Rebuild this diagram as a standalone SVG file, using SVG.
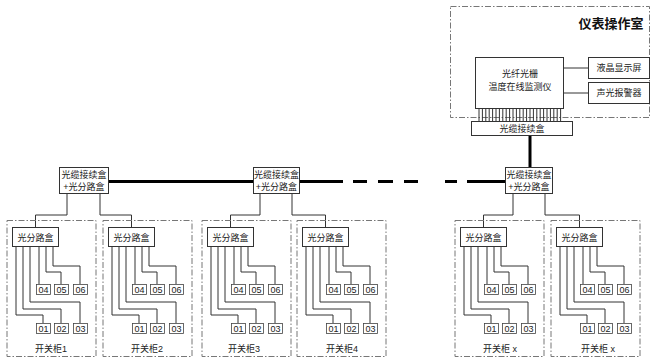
<svg xmlns="http://www.w3.org/2000/svg" xmlns:xlink="http://www.w3.org/1999/xlink" width="655" height="361" viewBox="0 0 655 361">
<style>
text{font-family:"Liberation Sans","Noto Sans CJK SC",sans-serif;font-size:9px;fill:#222;}
.box{fill:#fff;stroke:#333;stroke-width:1;}
.sbox{fill:#fff;stroke:#444;stroke-width:0.8;}
.dash{fill:none;stroke:#777;stroke-width:1;stroke-dasharray:6,2,1.5,2;}
.ln{fill:none;stroke:#333;stroke-width:1;}
.thick{fill:none;stroke:#000;stroke-width:3;}
.num{font-size:9px;text-anchor:middle;}
.mid{text-anchor:middle;}
</style>
<defs>
<g id="cabLines">
<path class="ln" d="M9,246V315H36V323M16,246V309H54V323M23,246V302H73V323M32,246V284M39,246V272H54V284M46,246V266H73V284"/>
</g>
<g id="cabBody">
<rect class="dash" x="0" y="220.5" width="89" height="136"/>
<rect class="box" x="5.5" y="227.5" width="46" height="19"/>
<text x="28.5" y="240.5" class="mid">光分路盒</text>
<rect class="sbox" x="29.5" y="284.5" width="14" height="10"/>
<rect class="sbox" x="47.5" y="284.5" width="14" height="10"/>
<rect class="sbox" x="66.5" y="284.5" width="14" height="10"/>
<text x="36.5" y="292.5" class="num">04</text>
<text x="54.5" y="292.5" class="num">05</text>
<text x="73.5" y="292.5" class="num">06</text>
<rect class="sbox" x="29.5" y="323.5" width="14" height="10"/>
<rect class="sbox" x="47.5" y="323.5" width="14" height="10"/>
<rect class="sbox" x="66.5" y="323.5" width="14" height="10"/>
<text x="36.5" y="331.5" class="num">01</text>
<text x="54.5" y="331.5" class="num">02</text>
<text x="73.5" y="331.5" class="num">03</text>
</g>
</defs>

<g id="room">
<rect class="dash" x="450.5" y="6.5" width="199" height="111"/>
<text x="611" y="28" class="mid" style="font-size:13px;font-weight:bold;fill:#111">仪表操作室</text>
</g>

<g id="connectors">
<path class="ln" d="M563,68H588M563,93H588"/>
<path class="ln" d="M479,108V121M482.4,108V121M485.8,108V121M489.2,108V121M492.6,108V121M496,108V121M499.4,108V121M502.8,108V121M506.2,108V121M509.6,108V121M513,108V121M516.4,108V121M519.8,108V121M523.2,108V121M526.6,108V121M530,108V121M533.4,108V121M536.8,108V121M540.2,108V121M543.6,108V121M547,108V121M550.4,108V121M553.8,108V121M557.2,108V121M560.6,108V121"/>
<path class="thick" d="M530,135V167"/>
<path class="thick" d="M108,181.5H253M299,181.5H343M353,181.5H367M378,181.5H393M404,181.5H418M445,181.5H457M467,181.5H505"/>
<path class="ln" d="M67,193V215H35.5V227M100,193V215H131.5V227M260,193V215H230.5V227M292,193V215H325.5V227M513,193V215H483.5V227M545,193V215H579.5V227"/>
<use xlink:href="#cabLines" transform="translate(7,0)"/>
<use xlink:href="#cabLines" transform="translate(103,0)"/>
<use xlink:href="#cabLines" transform="translate(202,0)"/>
<use xlink:href="#cabLines" transform="translate(297,0)"/>
<use xlink:href="#cabLines" transform="translate(455,0)"/>
<use xlink:href="#cabLines" transform="translate(551,0)"/>
</g>

<g id="monitor">
<rect class="box" x="475.5" y="57.5" width="88" height="51"/>
<text x="520" y="77" class="mid">光纤光栅</text>
<text x="520" y="90" class="mid">温度在线监测仪</text>
</g>
<g id="lcd">
<rect class="box" x="588.5" y="57.5" width="61" height="21"/>
<text x="619" y="71" class="mid">液晶显示屏</text>
</g>
<g id="alarm">
<rect class="box" x="588.5" y="82.5" width="61" height="21"/>
<text x="619" y="96" class="mid">声光报警器</text>
</g>
<g id="splice-top">
<rect class="box" x="471.5" y="121.5" width="101" height="14"/>
<text x="522" y="131.5" class="mid">光缆接续盒</text>
</g>

<g id="junction1">
<rect class="box" x="59.5" y="167.5" width="49" height="26"/>
<text x="84" y="177.5" class="mid">光缆接续盒</text>
<text x="84" y="189.5" class="mid">+光分路盒</text>
</g>
<g id="junction2">
<rect class="box" x="253.5" y="167.5" width="46" height="26"/>
<text x="276.5" y="177.5" class="mid">光缆接续盒</text>
<text x="276.5" y="189.5" class="mid">+光分路盒</text>
</g>
<g id="junction3">
<rect class="box" x="505.5" y="167.5" width="47" height="26"/>
<text x="529" y="177.5" class="mid">光缆接续盒</text>
<text x="529" y="189.5" class="mid">+光分路盒</text>
</g>

<g id="cabinet1" transform="translate(7,0)">
<use xlink:href="#cabBody"/>
<text x="44" y="352" class="mid">开关柜1</text>
</g>
<g id="cabinet2" transform="translate(103,0)">
<use xlink:href="#cabBody"/>
<text x="44" y="352" class="mid">开关柜2</text>
</g>
<g id="cabinet3" transform="translate(202,0)">
<use xlink:href="#cabBody"/>
<text x="42" y="352" class="mid">开关柜3</text>
</g>
<g id="cabinet4" transform="translate(297,0)">
<use xlink:href="#cabBody"/>
<text x="45" y="352" class="mid">开关柜4</text>
</g>
<g id="cabinet5" transform="translate(455,0)">
<use xlink:href="#cabBody"/>
<text x="45" y="352" class="mid">开关柜 x</text>
</g>
<g id="cabinet6" transform="translate(551,0)">
<use xlink:href="#cabBody"/>
<text x="47" y="352" class="mid">开关柜 x</text>
</g>
</svg>
